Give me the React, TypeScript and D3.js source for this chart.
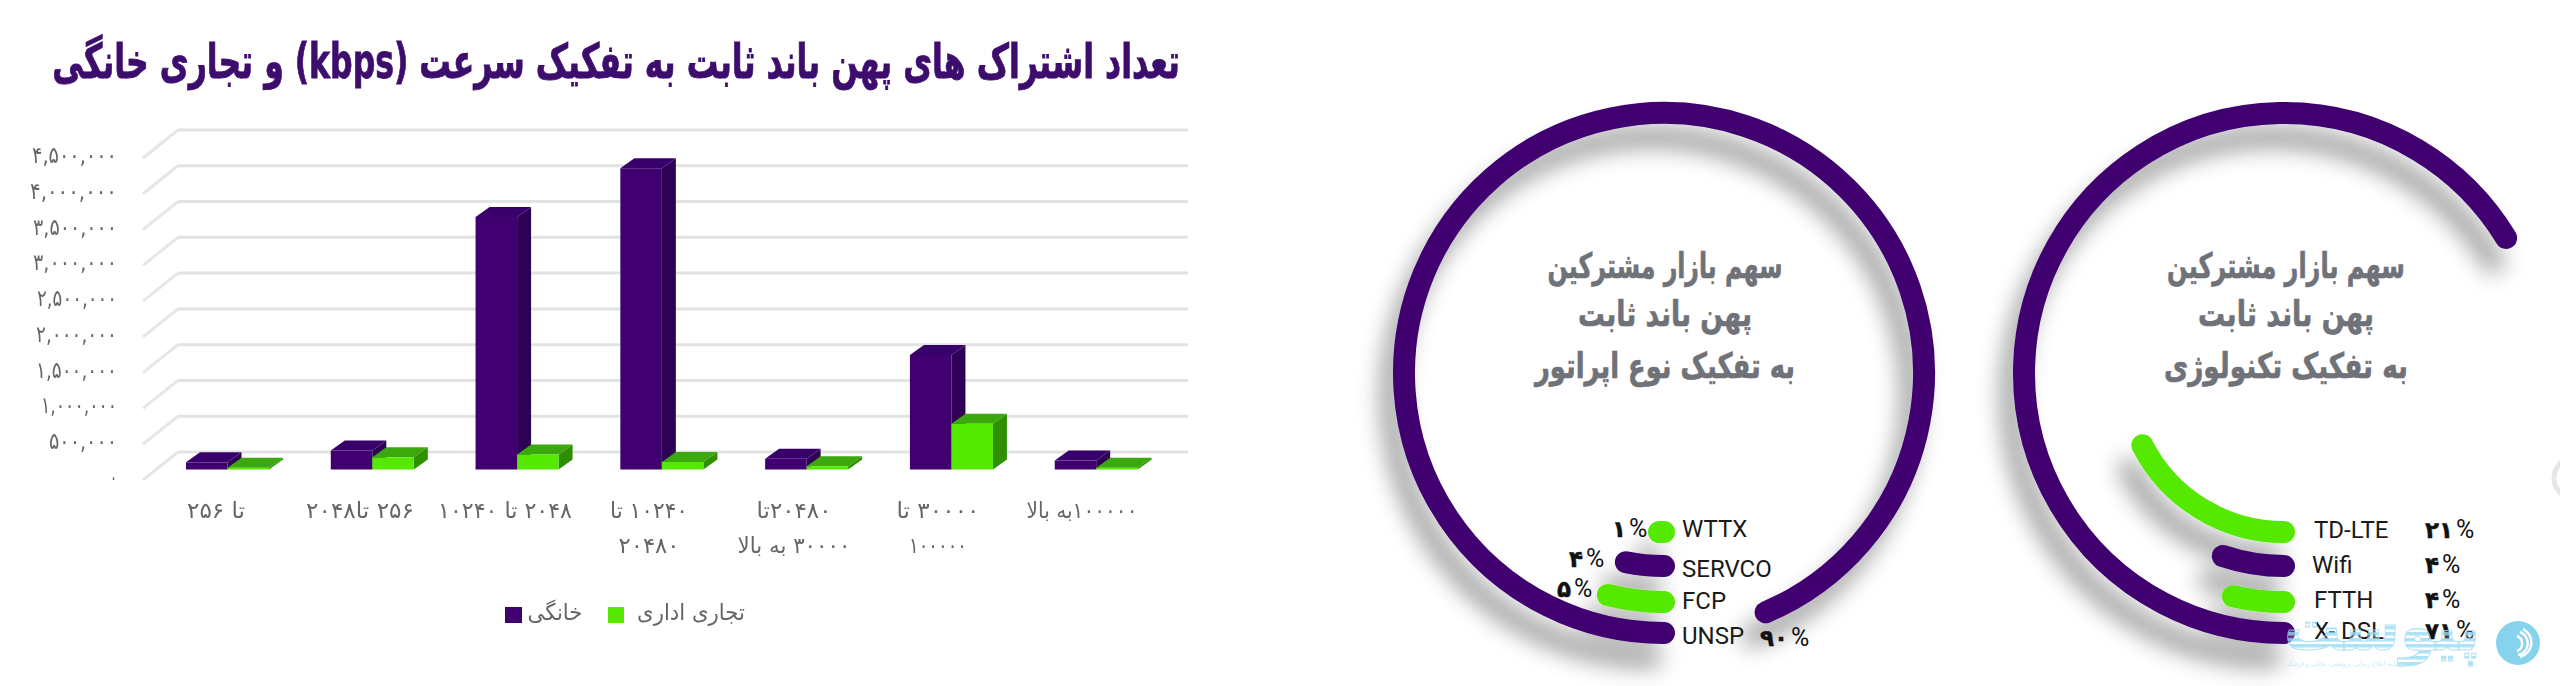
import React, { useLayoutEffect, useRef } from "react";
import * as d3 from "d3";

const chartTitle = "تعداد اشتراک های پهن باند ثابت به تفکیک سرعت (kbps) و تجاری خانگی";
const categoryLines = [
  ["تا ۲۵۶"],
  ["۲۵۶ تا۲۰۴۸"],
  ["۲۰۴۸ تا ۱۰۲۴۰"],
  ["۱۰۲۴۰ تا", "۲۰۴۸۰"],
  ["۲۰۴۸۰تا", "۳۰۰۰۰ به بالا"],
  ["۳۰۰۰۰  تا", "۱۰۰۰۰۰"],
  ["۱۰۰۰۰۰به بالا"],
];
const householdValues = [100000, 265000, 3530000, 4210000, 150000, 1600000, 125000];
const businessValues = [25000, 170000, 210000, 105000, 45000, 640000, 25000];
const seriesNames = ["خانگی", "تجاری اداری"];

const operatorTitle = ["سهم بازار مشترکین", "پهن باند ثابت", "به تفکیک نوع اپراتور"];
const operatorNames = ["UNSP", "FCP", "SERVCO", "WTTX"];
const operatorPercents = ["۹۰", "۵", "۴", "۱"];
const operatorSweeps = [337, 14.2, 11.4, 1.8];

const techTitle = ["سهم بازار مشترکین", "پهن باند ثابت", "به تفکیک تکنولوژی"];
const techNames = ["X- DSL", "FTTH", "Wifi", "TD-LTE"];
const techPercents = ["۷۱", "۴", "۴", "۲۱"];
const techSweeps = [238.7, 12.9, 18.5, 63];

const PURPLE = "#3f006f";
const GREEN = "#55e800";

const toPersian = (s: string) => s.replace(/\d/g, (c) => "۰۱۲۳۴۵۶۷۸۹"[+c]);

// layout
const BACK_Y = 452, LEFT_Y = 480, BASE_Y = 469.5;
const BACK_X = 178, LEFT_X = 143, RIGHT_X = 1188;
const BAR_W = 41.5, DEPTH_X = 14, DEPTH_Y = 10;
const tickWidths = [7, 68, 76, 81, 81, 80, 84, 84, 87, 85];
const catCenters = [216, 360, 505, 649, 794, 938, 1082];
const catWidths = [[58], [108], [134], [78, 61], [75, 113], [83, 58], [111]];

const height = d3.scaleLinear().domain([0, 4500000]).range([0, 322]);
const xBand = d3.scaleBand<number>().domain(d3.range(categoryLines.length)).range([186, 1199.5]);

const F = "'DejaVu Sans', sans-serif";

function Bar({ x, v, front, top, side }: { x: number; v: number; front: string; top: string; side: string }) {
  const yTop = BASE_Y - height(v);
  const pts = (a: number[][]) => a.map((p) => p.join(",")).join(" ");
  return (
    <g>
      <polygon fill={side} points={pts([[x + BAR_W, yTop], [x + BAR_W + DEPTH_X, yTop - DEPTH_Y], [x + BAR_W + DEPTH_X, BASE_Y - DEPTH_Y], [x + BAR_W, BASE_Y]])} />
      <polygon fill={top} points={pts([[x, yTop], [x + DEPTH_X, yTop - DEPTH_Y], [x + BAR_W + DEPTH_X, yTop - DEPTH_Y], [x + BAR_W, yTop]])} />
      <rect x={x} y={yTop} width={BAR_W} height={BASE_Y - yTop} fill={front} />
    </g>
  );
}

// Text whose measured width is stretched horizontally to the width seen in the reference.
function FitText({ x, y, w, size, fill, weight, anchor = "middle", dir = "rtl", sw = 0, paint, children }: any) {
  const ref = useRef<SVGTextElement>(null);
  useLayoutEffect(() => {
    const el = ref.current!;
    const n = el.getComputedTextLength();
    el.setAttribute("transform", `translate(${x},${y}) scale(${n ? w / n : 1},1)`);
  });
  return (
    <text ref={ref} textAnchor={anchor} direction={dir} fontFamily={F} fontSize={size} fill={paint || fill} fontWeight={weight} stroke={sw ? fill : undefined} strokeWidth={sw || undefined}>
      {children}
    </text>
  );
}

function Ring({ cx, sweeps, fid }: { cx: number; sweeps: number[]; fid: string }) {
  const cy = 373;
  const radii = [260, 229, 193, 159];
  const colors = [PURPLE, GREEN, PURPLE, GREEN];
  return (
    <g filter={`url(#${fid})`}>
      {sweeps.map((s, i) => {
        const p = d3.path();
        const a0 = Math.PI / 2;
        p.arc(cx, cy, radii[i], a0, a0 + (s * Math.PI) / 180, false);
        return <path key={i} d={p.toString()} fill="none" stroke={colors[i]} strokeWidth={22} strokeLinecap="round" />;
      })}
    </g>
  );
}

function RowLabel({ x, y, name }: { x: number; y: number; name: string }) {
  return <text x={x} y={y} fontFamily="Roboto, sans-serif" fontSize={24} fill="#1a1a1a">{name}</text>;
}
function Pct({ x, y, v }: { x: number; y: number; v: string }) {
  return (
    <text x={x} y={y} direction="ltr" fontFamily={F} fontSize={23} fill="#111">
      <tspan fontWeight="bold" stroke="#111" strokeWidth={0.5}>{v}</tspan>
      <tspan fontFamily="Roboto, sans-serif" fontSize={25} dx={3}>%</tspan>
    </text>
  );
}

export default function App() {
  const ticks = height.ticks(9);
  return (
    <svg width={2560} height={686} viewBox="0 0 2560 686" style={{ position: "fixed", left: 0, top: 0, background: "#fff" }}>
      <defs>
        <filter id="sh" x="-20%" y="-20%" width="140%" height="140%">
          <feDropShadow dx={-13} dy={24} stdDeviation={11} floodColor="#000" floodOpacity={0.36} />
        </filter>
        <filter id="soft" x="0" y="0" width="100%" height="100%" filterUnits="userSpaceOnUse">
          <feGaussianBlur stdDeviation={0.55} />
        </filter>
        <pattern id="stripes" width="6" height="6" patternUnits="userSpaceOnUse">
          <rect width="6" height="6" fill="#ffffff" fillOpacity={0.25} />
          <rect width="6" height="3.5" fill="#9adcf2" />
        </pattern>
      </defs>

      <g filter="url(#soft)">
        <FitText x={616} y={78} w={1128} size={48} fill="#3d0a6e" weight="bold" sw={0.9}>{chartTitle}</FitText>

        {ticks.map((t, i) => (
          <g key={t}>
            <line x1={LEFT_X} y1={LEFT_Y - height(t)} x2={BACK_X} y2={BACK_Y - height(t)} stroke="#e6e6e6" strokeWidth={3} />
            <line x1={BACK_X} y1={BACK_Y - height(t)} x2={RIGHT_X} y2={BACK_Y - height(t)} stroke="#e2e2e2" strokeWidth={3} />
            <FitText x={117} y={485 - height(t)} w={tickWidths[i]} size={23} fill="#666" anchor="end" dir="ltr">
              {toPersian(d3.format(",")(t))}
            </FitText>
          </g>
        ))}

        {householdValues.map((v, i) => {
          const x = xBand(i)!;
          return (
            <g key={i}>
              <Bar x={x} v={v} front={PURPLE} top="#38046a" side="#2e0056" />
              <Bar x={x + BAR_W} v={businessValues[i]} front={GREEN} top="#3aa80a" side="#2f8f06" />
            </g>
          );
        })}

        {categoryLines.map((lines, i) =>
          lines.map((l, j) => (
            <FitText key={l} x={catCenters[i]} y={518 + j * 35} w={catWidths[i][j]} size={22} fill="#666">{l}</FitText>
          ))
        )}

        <rect x={505} y={607} width={17} height={16} fill={PURPLE} />
        <FitText x={555} y={620} w={55} size={23} fill="#666">{seriesNames[0]}</FitText>
        <rect x={608} y={607} width={16} height={16} fill={GREEN} />
        <FitText x={691} y={620} w={108} size={23} fill="#666">{seriesNames[1]}</FitText>
      </g>

      {/* operator ring */}
      <Ring cx={1664} sweeps={operatorSweeps} fid="sh" />
      {operatorTitle.map((l, i) => (
        <FitText key={i} x={1665} y={[278, 326, 378][i]} w={[235, 174, 260][i]} size={35} fill="#6f7278" weight="bold" sw={0.7}>{l}</FitText>
      ))}
      {[644, 609, 577, 537].map((y, i) => <RowLabel key={i} x={1682} y={y} name={operatorNames[i]} />)}
      {[[1760, 646], [1557, 597], [1569, 567], [1612, 537]].map(([x, y], i) => <Pct key={i} x={x} y={y} v={operatorPercents[i]} />)}

      {/* technology ring */}
      <Ring cx={2284} sweeps={techSweeps} fid="sh" />
      {techTitle.map((l, i) => (
        <FitText key={i} x={2286} y={[278, 326, 378][i]} w={[238, 176, 244][i]} size={35} fill="#6f7278" weight="bold" sw={0.7}>{l}</FitText>
      ))}
      {[639, 608, 573, 538].map((y, i) => <RowLabel key={i} x={i === 2 ? 2312 : 2314} y={y} name={techNames[i]} />)}
      {[639, 608, 573, 538].map((y, i) => <Pct key={i} x={2425} y={y} v={techPercents[i]} />)}

      {/* publisher mark */}
      <g opacity={0.8}>
        <FitText x={2382} y={650} w={196} size={66} fill="#9adcf2" paint="url(#stripes)" weight="bold" sw={1}>پیوست</FitText>
        <FitText x={2345} y={666} w={120} size={7} fill="#bfe6f3">ماهنامه اطلاع رسانی، پژوهشی، تحلیلی و فرهنگی</FitText>
      </g>
      <circle cx={2518} cy={643} r={22} fill="#87d3ee" />
      <g fill="none" stroke="#fff" strokeWidth={2.5}>
        <path d="M2517 636 a8 8 0 0 1 0 15" />
        <path d="M2520 632 a12 12 0 0 1 -2 23" />
        <path d="M2523 629 a15 15 0 0 1 -3 28" />
      </g>
      <circle cx={2574} cy={478} r={20} fill="#fff" stroke="#e6e6e6" strokeWidth={5} />
    </svg>
  );
}
